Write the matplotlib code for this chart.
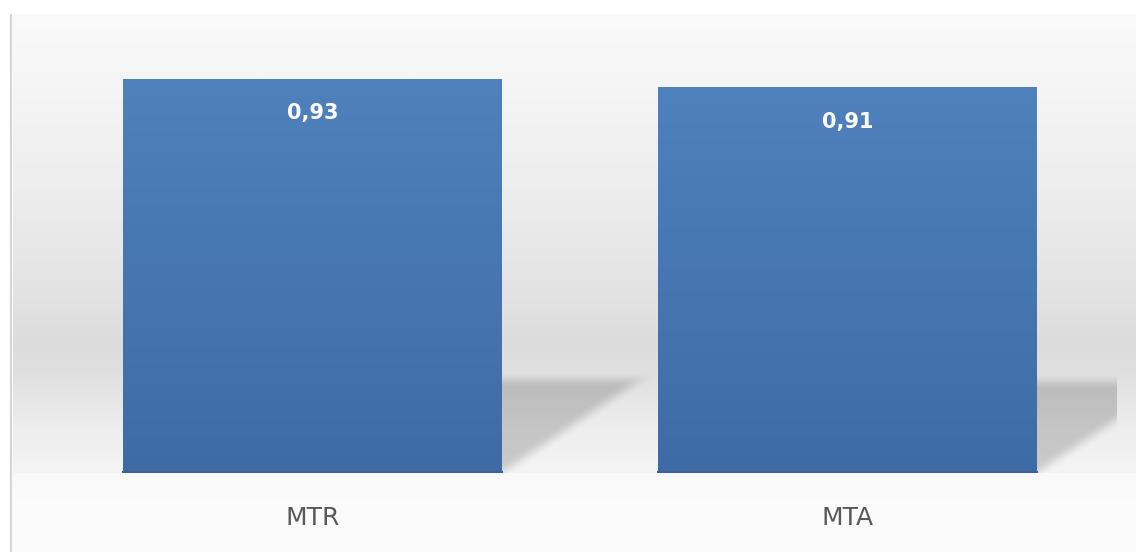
import numpy as np
import matplotlib
matplotlib.use("Agg")
import matplotlib.pyplot as plt
from matplotlib.colors import LinearSegmentedColormap

# values shown on the chart
categories = ["MTR", "MTA"]
values = [0.93, 0.91]
value_labels = ["0,93", "0,91"]

W_PX, H_PX = 1136, 552
fig = plt.figure(figsize=(W_PX / 100, H_PX / 100), dpi=100)
fig.patch.set_facecolor("white")

# --- background: wall gradient + floor, drawn on a full-figure pixel axes
bg = fig.add_axes([0, 0, 1, 1])
bg.set_xlim(0, W_PX)
bg.set_ylim(H_PX, 0)
bg.axis("off")

rows = np.arange(14, 473)
wall = np.interp(rows, [14, 100, 200, 300, 345, 380, 420, 472],
                 [250, 244, 236, 226, 220, 225, 236, 244]) / 255.0
wall_img = np.repeat(wall[:, None], 3, axis=1)[:, None, :]
bg.imshow(wall_img, extent=(13, W_PX, 473, 14), aspect="auto", interpolation="bilinear")

frows = np.arange(473, H_PX)
floor = np.interp(frows, [473, 500, 552], [249, 251, 252]) / 255.0
floor_img = np.repeat(floor[:, None], 3, axis=1)[:, None, :]
bg.imshow(floor_img, extent=(13, W_PX, H_PX, 473), aspect="auto", interpolation="bilinear")
bg.plot([11, 11], [14, H_PX], color="#d6d6d6", lw=1.6, solid_capstyle="butt")
bg.set_xlim(0, W_PX)
bg.set_ylim(H_PX, 0)

# --- plot area
left, right, top, base = 11, 1117, 14, 473
ax = fig.add_axes([left / W_PX, (H_PX - base) / H_PX,
                   (right - left) / W_PX, (base - top) / H_PX])
ax.patch.set_alpha(0)
ax.axis("off")

x = np.arange(len(categories))
width = 0.708
xlim = (-0.5636, 1.5037)
ymax = 1.0835
ax.set_xlim(*xlim)
ax.set_ylim(0, ymax)

# soft floor shadows to the right of each bar
ax_w, ax_h = right - left, base - top
sx = ax_w / (xlim[1] - xlim[0])
sy = ax_h / ymax
gx = np.linspace(xlim[0], xlim[1], ax_w)
gy = np.linspace(0, ymax, ax_h)
X, Y = np.meshgrid(gx, gy)
alpha = np.zeros_like(X)


def soft(dist, blur):
    t = np.clip(dist / blur + 0.5, 0, 1)
    return t * t * (3 - 2 * t)


for xi, v in zip(x, values):
    xr = xi + width / 2
    top_px = 0.236 * v * sy
    len_px = 0.258 * sx
    dx = (X - xr) * sx
    dy = Y * sy
    d_diag = (dy * len_px - dx * top_px) / np.hypot(len_px, top_px)
    a = 0.17 * soft(dx + 4, 6) * soft(top_px - dy, 16) * soft(d_diag, 16)
    alpha = np.maximum(alpha, a)

shadow = np.zeros(X.shape + (4,))
shadow[..., 3] = alpha
ax.imshow(shadow, extent=(xlim[0], xlim[1], 0, ymax), origin="lower",
          aspect="auto", zorder=1, interpolation="bilinear")

# bars with a vertical blue gradient
bars = ax.bar(x, values, width=width, color="none", edgecolor="none", zorder=2)
bar_cmap = LinearSegmentedColormap.from_list("bar", ["#3e6ba6", "#4f81bd"])
grad = np.linspace(0, 1, 256)[:, None]
for b in bars:
    x0, y0 = b.get_x(), b.get_y()
    x1, y1 = x0 + b.get_width(), y0 + b.get_height()
    im = ax.imshow(grad, cmap=bar_cmap, extent=(x0, x1, y0, y1), origin="lower",
                   aspect="auto", zorder=3, interpolation="bilinear")
    im.set_clip_path(b)
    ax.plot([x0, x1], [y0 + 0.002, y0 + 0.002], color="#3a6296", lw=1.5, zorder=4)

ax.set_xlim(*xlim)
ax.set_ylim(0, ymax)

# value labels inside the bars and category labels under them
for xi, v, lab in zip(x, values, value_labels):
    ax.annotate(lab, (xi, v), xytext=(0, -24.5), textcoords="offset points",
                ha="center", va="center", color="white", fontsize=15,
                fontweight="bold", zorder=5)
for xi, cat in zip(x, categories):
    ax.annotate(cat, (xi, 0), xytext=(0, -32.4), textcoords="offset points",
                ha="center", va="center", color="#595959", fontsize=18,
                annotation_clip=False, zorder=5)

fig.savefig("out.png", dpi=100, facecolor="white")
